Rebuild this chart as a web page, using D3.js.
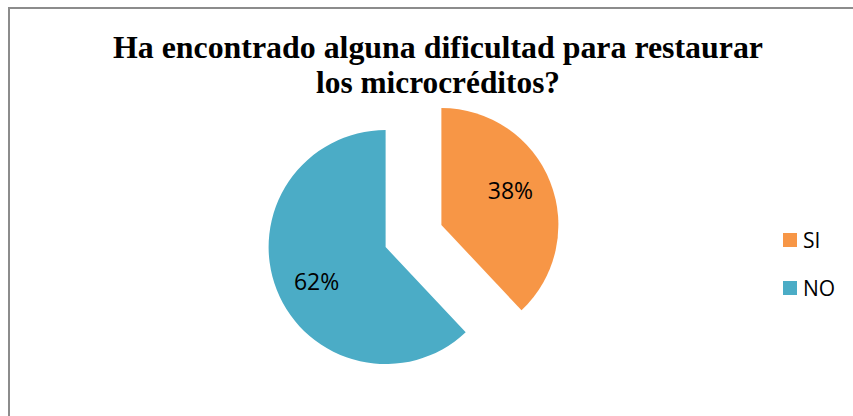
<!DOCTYPE html>
<html>
<head>
<meta charset="utf-8">
<script src="https://cdn.jsdelivr.net/npm/d3@7"></script>
<style>
  html, body { margin: 0; padding: 0; background: #fff; }
  svg { display: block; }
</style>
</head>
<body>
<svg id="chart" width="853" height="416"></svg>
<script>
// Survey answers and their shares
const categories = ["SI", "NO"];
const values = [38, 62];
const labels = ["38%", "62%"];
const colors = ["#F79646", "#4BACC6"];
const titleLines = ["Ha encontrado alguna dificultad para restaurar", "los microcréditos?"];

const svg = d3.select("#chart");

// Chart area frame (runs past the right and bottom edges)
svg.append("rect")
  .attr("x", 9).attr("y", 8)
  .attr("width", 860).attr("height", 420)
  .attr("fill", "#fff")
  .attr("stroke", "#8c8c8c")
  .attr("stroke-width", 2);

// Title
const titleWidths = [650, 244];
const title = svg.append("g")
  .attr("font-family", "'Liberation Serif', 'Times New Roman', serif")
  .attr("font-weight", "bold")
  .attr("font-size", 31)
  .attr("text-anchor", "middle")
  .attr("fill", "#000");
titleLines.forEach((t, i) => {
  title.append("text")
    .attr("x", 438)
    .attr("y", 58 + i * 35)
    .attr("textLength", titleWidths[i])
    .attr("lengthAdjust", "spacingAndGlyphs")
    .text(t);
});

// Exploded pie
const cx = 413.5, cy = 236, radius = 117, explode = 30;
const pie = d3.pie().sort(null).value(d => d);
const arcs = pie(values);
const arc = d3.arc().innerRadius(0).outerRadius(radius);

const slices = svg.append("g").attr("transform", `translate(${cx},${cy})`);
const labelShift = -5 * Math.PI / 180;
arcs.forEach((a, i) => {
  const mid = (a.startAngle + a.endAngle) / 2;
  const dx = Math.sin(mid) * explode, dy = -Math.cos(mid) * explode;
  const g = slices.append("g").attr("transform", `translate(${dx},${dy})`);
  g.append("path").attr("d", arc(a)).attr("fill", colors[i]);
  const lr = radius * 0.66, la = mid + labelShift;
  g.append("text")
    .attr("x", Math.sin(la) * lr)
    .attr("y", -Math.cos(la) * lr)
    .attr("dy", "0.36em")
    .attr("text-anchor", "middle")
    .attr("font-family", "'Open Sans', 'Noto Sans', sans-serif")
    .attr("font-size", 23)
    .attr("fill", "#000")
    .text(labels[i]);
});

// Legend
const legend = svg.append("g")
  .attr("font-family", "'Open Sans', 'Noto Sans', sans-serif")
  .attr("font-size", 21)
  .attr("fill", "#000");
categories.forEach((c, i) => {
  const y = 233 + i * 48;
  legend.append("rect")
    .attr("x", 783).attr("y", y)
    .attr("width", 14).attr("height", 14)
    .attr("fill", colors[i]);
  legend.append("text")
    .attr("x", 803).attr("y", y + 15)
    .text(c);
});
</script>
</body>
</html>
